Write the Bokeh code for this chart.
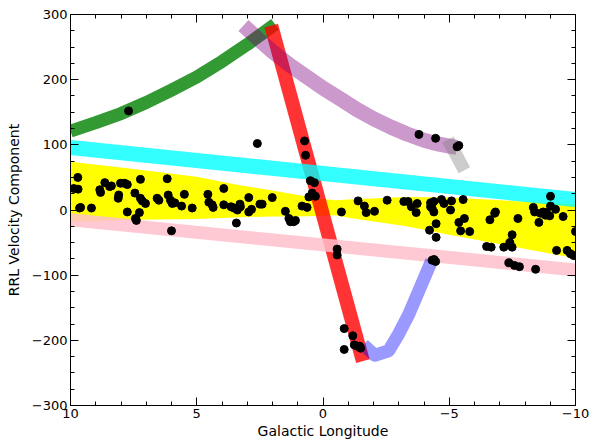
from bokeh.plotting import figure
from bokeh.models import Range1d, SingleIntervalTicker, LinearAxis, CustomJSTickFormatter
from bokeh.embed import file_html
from bokeh.resources import INLINE

# ---- data ----
star_l = [9.71, 9.87, 9.70, 9.64, 9.60, 9.17, 8.84, 8.81, 8.64, 8.38, 8.45, 8.09, 8.11, 8.02,
          7.85, 7.75, 7.75, 7.45, 7.23, 7.27, 7.23, 7.16, 7.03, 7.43, 7.39, 6.57, 6.50, 6.17,
          6.13, 6.04, 5.97, 5.87, 5.60, 5.49, 5.18, 6.00, 7.70, 2.60,
          3.93, 4.56, 4.52, 4.39, 4.35, 3.93, 3.64, 3.53, 3.39, 3.29, 3.27, 3.43, 2.94, 2.94,
          2.83, 2.50, 2.41, 2.01, 1.49, 1.35, 1.29, 1.16, 1.09, 0.83, 0.63, 0.50, 0.34, 0.56,
          0.43, 0.30, 0.69, 0.73,
          -0.73, -1.39, -1.64, -1.71, -2.04, -2.54, -3.20, -3.37, -3.50, -3.73, -3.69, -4.26, -4.39,
          -4.32, -4.26, -4.39, -4.69, -4.79, -4.48, -4.22, -4.48, -0.56, -0.56,
          -5.09, -5.05, -5.55, -5.38, -5.60, -5.45, -5.81, -6.61, -6.80, -6.83, -6.48, -6.66,
          -7.16, -7.40, -7.49, -7.49, -7.72, -7.36, -7.58, -7.78, -8.42, -8.33, -8.38, -8.61,
          -8.72, -8.85, -8.81, -8.98, -8.55, -9.21, -9.01, -9.01, -9.51, -10.0, -9.25, -9.67,
          -9.80, -9.93,
          -0.84, -1.18, -1.24, -1.35, -1.45, -1.49, -0.84, -4.32, -4.46, -4.40,
          -3.80, -4.46, -5.31, -5.38]
star_v = [50, 33, 32, 3, 4, 3, 31, 27, 42, 37, 36, 23, 18, 41,
          41, 39, -3, 26, 47, -4, 18, 14, 10, -13, -16, 18, 15, 48,
          23, 15, 10, 11, 6, 24, 3, -32, 152, 102,
          33, 24, 12, 8, 4, 8, 5, 3, 0, 9, 5, -20, 19, -3,
          1, 9, 9, 19, -2, -13, -18, -18, -16, 6, 4, 45, 42, 20,
          26, 21, 84, 106,
          -3, 14, 6, -4, -2, 15, 13, 13, 5, 10, -4, 11, 13,
          3, 5, -3, 16, 10, -21, -31, -42, -60, -69,
          14, 0, 16, -19, -13, -32, -33, -15, -5, -3, -56, -57,
          -57, -50, -38, -57, -13, -81, -85, -87, -91, 4, -3, -5,
          -3, -4, -8, -9, -19, 1, 21, 6, -10, -33, -62, -62,
          -67, -70,
          -182, -193, -207, -209, -209, -212, -214, -77, -79, -76,
          116, 110, 97, 99]

band_l = [10, 7.5, 5, 3.3, 2.0, 1.0, 0.0, -0.5, -1.0, -3.3, -5.0, -7.5, -10]
band_hi = [74, 63, 51, 38, 30, 23, 17, 15, 16, 20, 19, 14, 9]
band_lo = [-18, -15, -14, -11, -10, -10, -9, -8, -12, -25, -38, -56, -74]

green_l = [10, 9, 8, 7, 6, 5, 4, 3, 1.9]
green_v = [121, 134, 148, 165, 184, 204, 228, 254, 285]

red_l = [2.05, -1.58]
red_v = [283, -232]

cyan_l = [10, -10]
cyan_v = [96, 16]

pink_l = [10, -10]
pink_v = [-15, -92]

blue_l = [-1.6, -2.05, -2.6, -3.0, -3.4, -3.75, -4.3]
blue_v = [-207, -223, -216, -190, -160, -128, -78]

purple_l = [3.15, 2.5, 2.0, 1.3, 0.6, 0.0, -0.7, -1.35, -2.0, -2.7, -3.3, -4.0, -4.6, -5.0, -5.3]
purple_v = [283, 260, 243, 222, 203, 187, 170, 154, 140, 127, 117, 107, 101, 98, 96]

gray_l = [-4.95, -5.6]
gray_v = [108, 61]

# ---- figure ----
p = figure(width=590, height=441, output_backend="svg", toolbar_location=None,
           x_range=Range1d(10, -10), y_range=Range1d(-300, 300),
           min_border_left=70, min_border_right=15, min_border_top=14, min_border_bottom=35,
           x_axis_label="Galactic Longitude", y_axis_label="RRL Velocity Component")
p.xgrid.visible = False
p.ygrid.visible = False
p.outline_line_color = "black"
p.outline_line_alpha = 1
p.outline_line_width = 1
p.background_fill_color = "white"
p.border_fill_color = "white"

fmt = CustomJSTickFormatter(code="return tick < 0 ? '\u2212' + (-tick) : '' + tick;")


def style_axis(ax, labels=True):
    ax.major_tick_in = 8
    ax.major_tick_out = 0
    ax.minor_tick_in = 4
    ax.minor_tick_out = 0
    ax.major_tick_line_color = "black"
    ax.minor_tick_line_color = "black"
    ax.axis_line_color = "black"
    if labels:
        ax.formatter = fmt
        ax.major_label_text_font = "DejaVu Sans"
        ax.major_label_text_font_size = "13px"
        ax.major_label_text_color = "black"
        ax.axis_label_text_font = "DejaVu Sans"
        ax.axis_label_text_font_size = "14px"
        ax.axis_label_text_font_style = "normal"
        ax.axis_label_text_color = "black"
    else:
        ax.major_label_text_font_size = "1px"
        ax.major_label_text_color = None
        ax.major_label_standoff = 0


xa = p.xaxis[0]
xa.ticker = SingleIntervalTicker(interval=5, num_minor_ticks=5)
style_axis(xa)
xa.major_label_standoff = 3
xa.axis_label_standoff = 2

ya = p.yaxis[0]
ya.ticker = SingleIntervalTicker(interval=100, num_minor_ticks=4)
style_axis(ya)
ya.major_label_standoff = 3
ya.axis_label_standoff = 7

top = LinearAxis(ticker=SingleIntervalTicker(interval=5, num_minor_ticks=5))
style_axis(top, labels=False)
p.add_layout(top, "above")
right = LinearAxis(ticker=SingleIntervalTicker(interval=100, num_minor_ticks=4))
style_axis(right, labels=False)
p.add_layout(right, "right")

# ---- marks ----
p.varea(x=band_l, y1=band_lo, y2=band_hi, fill_color="#FFFF00", fill_alpha=1)
p.line(green_l, green_v, line_color="#008000", line_alpha=0.8, line_width=13, line_join="round")
p.line(red_l, red_v, line_color="#FF0000", line_alpha=0.8, line_width=14)
p.line(cyan_l, cyan_v, line_color="#00FFFF", line_alpha=0.8, line_width=15)
p.line(pink_l, pink_v, line_color="#FFC0CB", line_alpha=0.85, line_width=13)
p.line(blue_l, blue_v, line_color="#0000FF", line_alpha=0.4, line_width=13, line_join="round")
p.line(purple_l, purple_v, line_color="#800080", line_alpha=0.4, line_width=15, line_join="round")
p.line(gray_l, gray_v, line_color="#808080", line_alpha=0.4, line_width=13)
p.scatter(star_l, star_v, size=8, color="black")

open("out.html", "w").write(file_html(p, INLINE))
